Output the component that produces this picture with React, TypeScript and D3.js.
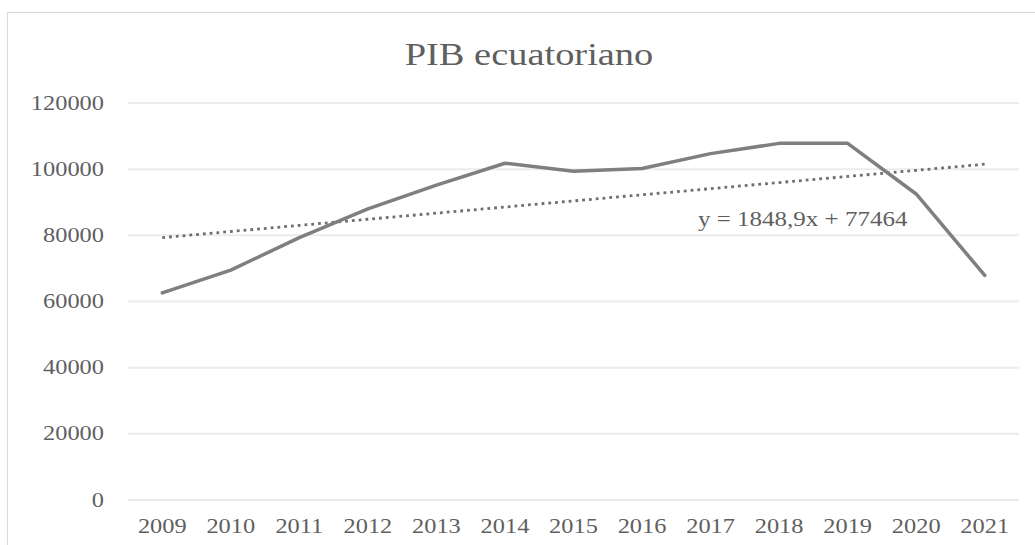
import React from "react";
import * as d3 from "d3";

const years = ["2009","2010","2011","2012","2013","2014","2015","2016","2017","2018","2019","2020","2021"];
const gdp = [62600, 69500, 79300, 88000, 95200, 101800, 99400, 100200, 104700, 107800, 107800, 92500, 67900];
const yTicks = [0, 20000, 40000, 60000, 80000, 100000, 120000];
const trendSlope = 1848.9;
const trendIntercept = 77464;
const titleText = "PIB ecuatoriano";
const equationText = "y = 1848,9x + 77464";

const W = 1035, H = 545;
const SX = 1.22;
const FONT = "'Liberation Serif', 'Times New Roman', serif";

export default function App() {
  const x = d3.scalePoint<string>().domain(years).range([128, 1019]).padding(0.5);
  const y = d3.scaleLinear().domain([0, 120000]).range([500, 103]);

  const line = d3.line<number>()
    .x((_, i) => x(years[i]) as number)
    .y((d) => y(d));

  const trend = years.map((_, i) => trendSlope * (i + 1) + trendIntercept);

  const stretched = (tx: number, ty: number) => `translate(${tx},${ty}) scale(${SX},1)`;

  return (
    <svg width={W} height={H} style={{ position: "absolute", left: 0, top: 0, background: "#fff" }}>
      <rect x={7.5} y={12.5} width={W + 20} height={H + 20} fill="#fff" stroke="#d9d9d9" strokeWidth={1} />
      {yTicks.map((t) => (
        <g key={t}>
          <line x1={128} x2={1019} y1={y(t)} y2={y(t)} stroke="#ececec" strokeWidth={2} />
          <text transform={stretched(104, y(t) + 6.5)} textAnchor="end" fontFamily={FONT} fontSize={20} fill="#5f5f5f">
            {t}
          </text>
        </g>
      ))}
      {years.map((yr) => (
        <text key={yr} transform={stretched(x(yr) as number, 533)} textAnchor="middle" fontFamily={FONT} fontSize={20} fill="#5f5f5f">
          {yr}
        </text>
      ))}
      <text transform={stretched(529, 65)} textAnchor="middle" fontFamily={FONT} fontSize={31.5} fill="#5f5f5f">
        {titleText}
      </text>
      <path d={line(trend) || ""} fill="none" stroke="#6f6f6f" strokeWidth={2.8} strokeDasharray="2.8 4" />
      <path d={line(gdp) || ""} fill="none" stroke="#7f7f7f" strokeWidth={3.5} strokeLinejoin="round" strokeLinecap="round" />
      <text transform={stretched(698, 226)} textAnchor="start" fontFamily={FONT} fontSize={20.5} fill="#5f5f5f">
        {equationText}
      </text>
    </svg>
  );
}
